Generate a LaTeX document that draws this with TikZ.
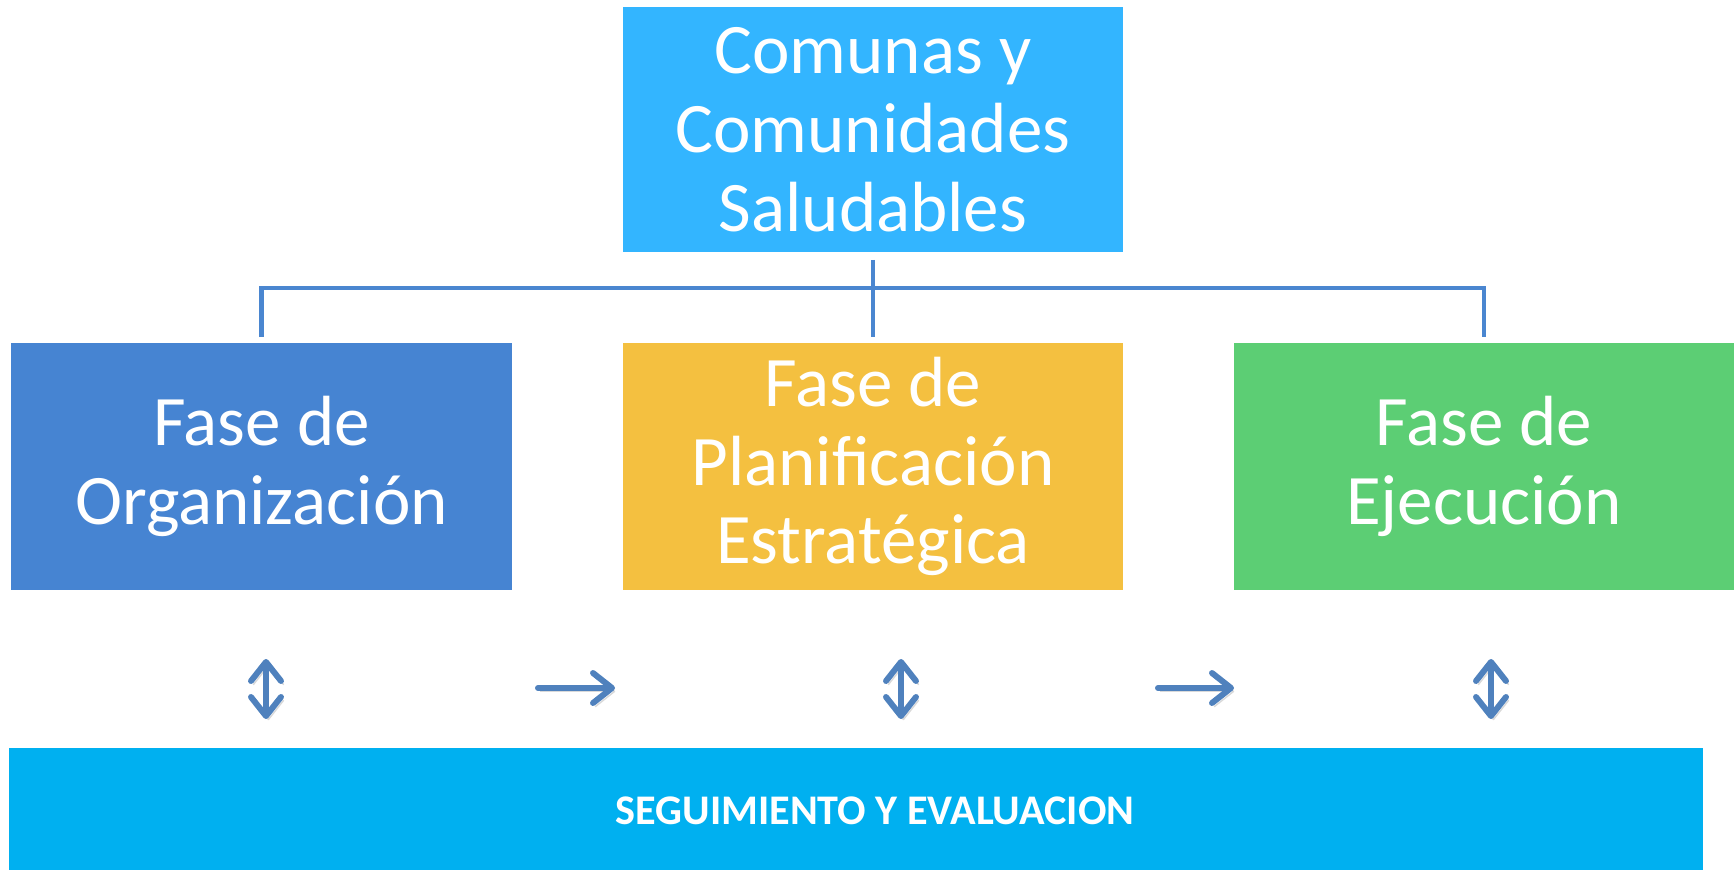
\documentclass[tikz,border=0pt]{standalone}
\definecolor{topcolor}{RGB}{51,181,255}
\definecolor{orgcolor}{RGB}{70,132,210}
\definecolor{plancolor}{RGB}{244,192,64}
\definecolor{ejecolor}{RGB}{92,206,116}
\definecolor{barcolor}{RGB}{0,176,240}
\definecolor{linecolor}{RGB}{74,134,208}
\definecolor{arrcolor}{RGB}{79,129,189}
\usepackage{fontspec}
\setmainfont{Carlito}
\usepackage{tikz}
\usetikzlibrary{arrows.meta, positioning, calc}

\tikzset{
    phasebox/.style={draw=none, fill=#1, text=white, align=center, minimum width=5cm, minimum height=2.47cm, inner sep=0pt, font=\fontsize{20.2}{22.4}\selectfont},
    conn/.style={draw=linecolor, line width=1.2pt},
    arr/.style={draw=arrcolor, line width=1.7pt, line cap=round, -{Straight Barb[length=1.9mm, width=3mm, line width=1.7pt, round]},
        preaction={draw=black!15, transform canvas={shift={(0.7pt,-1pt)}}}},
    darr/.style={arr, {Straight Barb[length=1.9mm, width=3mm, line width=1.7pt, round]}-{Straight Barb[length=1.9mm, width=3mm, line width=1.7pt, round]}}
}

\begin{document}
\begin{tikzpicture}[x=0.01cm, y=-0.01cm]
    \useasboundingbox (0,0) rectangle (1736,870);

    % Top box
    \node[phasebox=topcolor, minimum height=2.45cm] (top) at (873,129.5) {Comunas y\\Comunidades\\Saludables};

    % Phases
    \node[phasebox=orgcolor] (org) at (261.5,466.5) {Fase de\\Organización};
    \node[phasebox=plancolor] (plan) at (873,466.5) {Fase de\\Planificación\\Estratégica};
    \node[phasebox=ejecolor] (eje) at (1484,466.5) {Fase de\\Ejecución};

    % Connectors
    \coordinate (hub) at (873,288);
    \draw[conn] ([yshift=-0.07cm]top.south) -- ([yshift=0.05cm]plan.north);
    \draw[conn] ([yshift=0.05cm]org.north) |- (hub) -| ([yshift=0.05cm]eje.north);

    % Bottom bar
    \node[fill=barcolor, minimum width=16.93cm, minimum height=1.22cm, inner sep=0pt] (bar) at (855.5,809) {};
    \node[text=white, font=\fontsize{12}{14}\selectfont\bfseries] (bartext) at (875,811) {SEGUIMIENTO Y EVALUACION};

    % Arrows
    \coordinate (a1) at (266,659);  \coordinate (b1) at (266,719);
    \coordinate (a2) at (901,659);  \coordinate (b2) at (901,719);
    \coordinate (a3) at (1491,659); \coordinate (b3) at (1491,719);
    \coordinate (h1) at (538,688);  \coordinate (k1) at (615,688);
    \coordinate (h2) at (1158,688); \coordinate (k2) at (1234,688);
    \draw[darr] (a1) -- (b1);
    \draw[darr] (a2) -- (b2);
    \draw[darr] (a3) -- (b3);
    \draw[arr] (h1) -- (k1);
    \draw[arr] (h2) -- (k2);
\end{tikzpicture}
\end{document}
